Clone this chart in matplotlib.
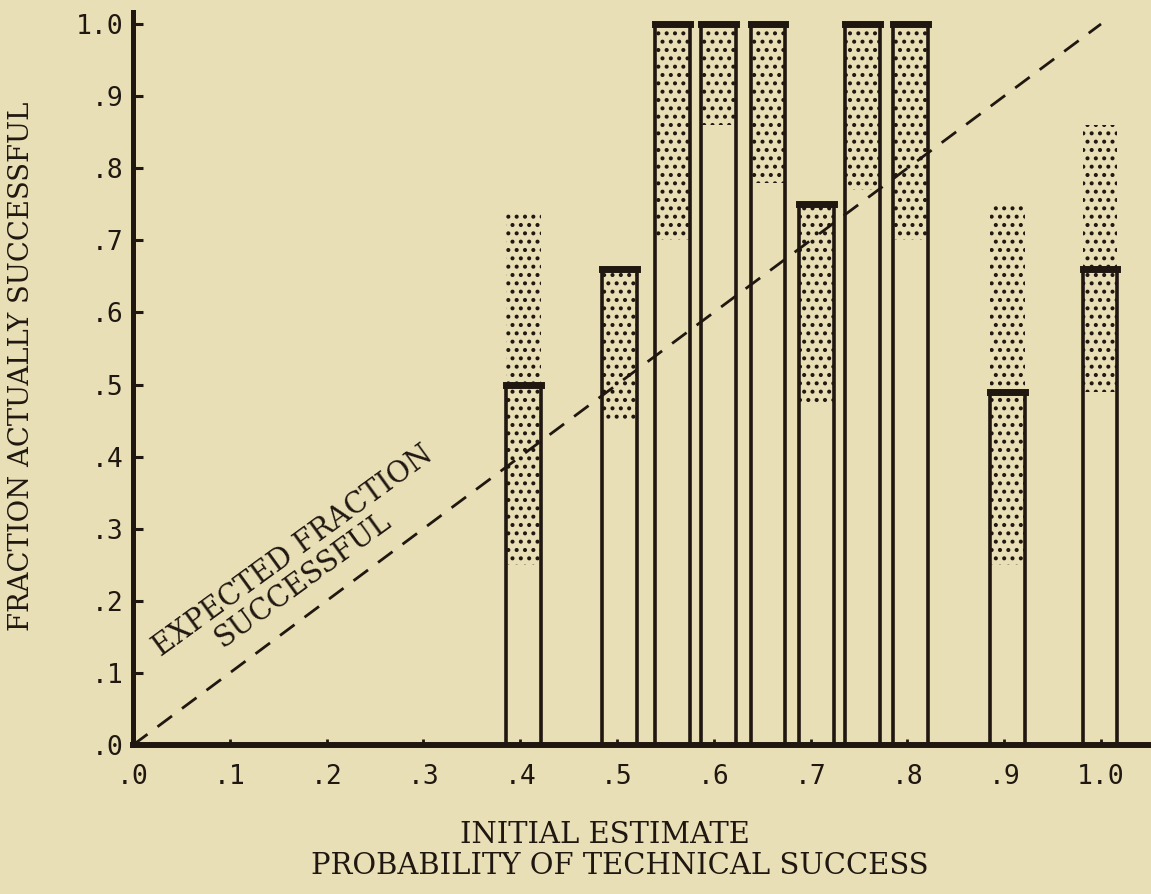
import matplotlib
matplotlib.use("Agg")
import matplotlib.pyplot as plt
import numpy as np

# ---- data ----
estimate = [0.403, 0.503, 0.557, 0.605, 0.656, 0.706, 0.754, 0.803, 0.903, 0.999]
actual = [0.50, 0.66, 1.00, 1.00, 1.00, 0.75, 1.00, 1.00, 0.49, 0.66]
range_low = [0.25, 0.45, 0.70, 0.86, 0.78, 0.47, 0.77, 0.70, 0.25, 0.49]
range_high = [0.74, 0.66, 1.00, 1.00, 1.00, 0.75, 1.00, 1.00, 0.75, 0.86]
expected_x = [0.0, 1.0]
expected_y = [0.0, 1.0]
xtick_vals = [0.0, 0.1, 0.2, 0.3, 0.4, 0.5, 0.6, 0.7, 0.8, 0.9, 1.0]
xtick_labels = [".0", ".1", ".2", ".3", ".4", ".5", ".6", ".7", ".8", ".9", "1.0"]
ytick_vals = [0.0, 0.1, 0.2, 0.3, 0.4, 0.5, 0.6, 0.7, 0.8, 0.9, 1.0]
ytick_labels = [".0", ".1", ".2", ".3", ".4", ".5", ".6", ".7", ".8", ".9", "1.0"]

# ---- style ----
BG = "#E8DFB7"
INK = "#201710"
TYPE = "DejaVu Serif"
TICKFONT = "DejaVu Sans Mono"
W = 0.036

plt.rcParams['hatch.linewidth'] = 1.7
plt.rcParams['hatch.color'] = INK

fig = plt.figure(figsize=(11.51, 8.94), dpi=100, facecolor=BG)
ax = fig.add_axes([133 / 1151, (894 - 745) / 894, 1 - 133 / 1151, (745 - 12) / 894])
ax.set_facecolor(BG)
ax.set_xlim(0, 1018 / 968)
ax.set_ylim(0, 733 / 721)

est = np.array(estimate)
lo = np.array(range_low)
hi = np.array(range_high)

# stippled ranges
ax.bar(est, hi - lo, bottom=lo, width=W, color='none', edgecolor=INK,
       linewidth=0, hatch='..', zorder=2)
# bar outlines
ax.bar(est, actual, width=W, fill=False, edgecolor=INK, linewidth=2.6, zorder=3)
tops = ax.hlines(actual, est - W / 2, est + W / 2, colors=INK, linewidth=5, zorder=4)
tops.set_capstyle('projecting')

# expected line
ax.plot(expected_x, expected_y, color=INK, linewidth=2,
        linestyle=(0, (6.5, 4.5)), zorder=1)

ax.text(0.165, 0.269, "EXPECTED FRACTION", rotation=36, rotation_mode='anchor',
        ha='center', va='center', fontsize=20.6, family=TYPE, color=INK)
ax.text(0.176, 0.229, "SUCCESSFUL", rotation=36, rotation_mode='anchor',
        ha='center', va='center', fontsize=20.6, family=TYPE, color=INK)

# axes
for s in ['top', 'right']:
    ax.spines[s].set_visible(False)
ax.spines['left'].set_linewidth(3.6)
ax.spines['bottom'].set_linewidth(4.3)
ax.spines['left'].set_color(INK)
ax.spines['bottom'].set_color(INK)

ax.set_xticks(xtick_vals)
ax.set_xticklabels(xtick_labels)
ax.set_yticks(ytick_vals)
ax.set_yticklabels(ytick_labels)
ax.tick_params(axis='y', direction='in', length=7, width=2.2, pad=7,
               labelsize=19, colors=INK)
ax.tick_params(axis='x', direction='in', length=4, width=2, pad=14,
               labelsize=19, colors=INK)
for lab in ax.get_xticklabels() + ax.get_yticklabels():
    lab.set_family(TICKFONT)

fig.text(22 / 1151, 1 - 366 / 894, "FRACTION ACTUALLY SUCCESSFUL", rotation=90,
         ha='center', va='center', fontsize=19.8, family=TYPE, color=INK)
fig.text(605 / 1151, 1 - 835 / 894, "INITIAL ESTIMATE",
         ha='center', va='center', fontsize=20.9, family=TYPE, color=INK)
fig.text(620 / 1151, 1 - 866 / 894, "PROBABILITY OF TECHNICAL SUCCESS",
         ha='center', va='center', fontsize=20.9, family=TYPE, color=INK)

fig.savefig("out.png", dpi=100, facecolor=BG)
